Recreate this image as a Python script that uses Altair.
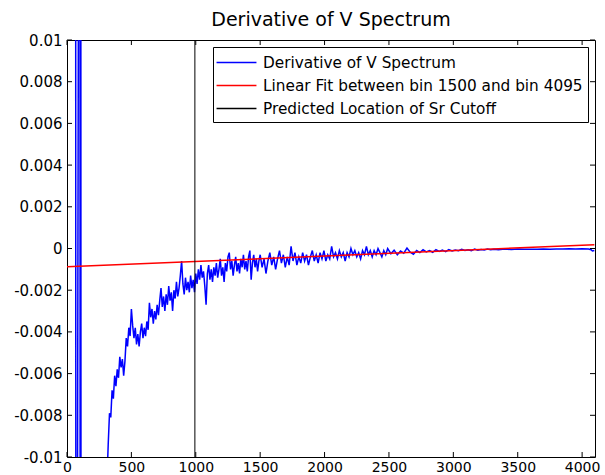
import altair as alt
import pandas as pd

# ---------------- data ----------------
series_names = ["Derivative of V Spectrum",
                "Linear Fit between bin 1500 and bin 4095",
                "Predicted Location of Sr Cutoff"]
series_colors = ["#0000ff", "#ff0000", "#000000"]

# off-scale spikes at the start of the spectrum
spike_bins = [0, 66, 70, 100, 103, 106, 110, 300]
spike_vals = [0.05, 0.05, -0.05, 0.05, -0.05, 0.05, -0.05, -0.05]

bins_a = [310, 320, 330, 340, 350, 360, 370, 380, 390, 400,
          410, 420, 430, 440, 450, 460, 470, 480, 490, 500,
          510, 520, 530, 540, 550, 560, 570, 580, 590, 600,
          610, 620, 630, 640, 650, 660, 670, 680, 690, 700,
          710, 720, 730, 740, 750, 760, 770, 780, 790, 800,
          810, 820, 830, 840, 850, 860, 870, 880, 890, 900,
          910, 920, 930, 940, 950, 960, 970, 980, 990, 1000,
          1010, 1020, 1030, 1040, 1050, 1060, 1070, 1080, 1090, 1100,
          1110, 1120, 1130, 1140, 1150, 1160, 1170, 1180, 1190, 1200,
          1210, 1220, 1230, 1240, 1250, 1260, 1270, 1280, 1290, 1300,
          1310, 1320, 1330, 1340, 1350, 1360, 1370, 1380, 1390, 1400,
          1410, 1420, 1430, 1440, 1450, 1460, 1470, 1480, 1490, 1500]
vals_a = [-0.0112, -0.0094, -0.0079, -0.0081, -0.0068, -0.0072, -0.0061, -0.0066, -0.0058, -0.0062,
          -0.0052, -0.0057, -0.0053, -0.0061, -0.0054, -0.0043, -0.0047, -0.0038, -0.0042, -0.0029,
          -0.0037, -0.0043, -0.0038, -0.0046, -0.0041, -0.0047, -0.0040, -0.0036, -0.0043, -0.0038,
          -0.0042, -0.0035, -0.0039, -0.0026, -0.0033, -0.0029, -0.0036, -0.0030, -0.0034, -0.0027,
          -0.0032, -0.0025, -0.0019, -0.0028, -0.0023, -0.0030, -0.0022, -0.0027, -0.0018, -0.0025,
          -0.0021, -0.0030, -0.0020, -0.0024, -0.0016, -0.0023, -0.0019, -0.0013, -0.0006, -0.0017,
          -0.0022, -0.0014, -0.0020, -0.0016, -0.0021, -0.0013, -0.0019, -0.0015, -0.0021, -0.0012,
          -0.0017, -0.0010, -0.0015, -0.0008, -0.0014, -0.0011, -0.0018, -0.0027, -0.0012, -0.0008,
          -0.0015, -0.0010, -0.0016, -0.0009, -0.0013, -0.0007, -0.0014, -0.0010, -0.0005, -0.0013,
          -0.0009, -0.0016, -0.0007, -0.0011, -0.0004, -0.0002, -0.0010, -0.0006, -0.0013, -0.0008,
          -0.0004, -0.0011, -0.0007, -0.0012, -0.0005, -0.0009, -0.0003, -0.0010, -0.0006, -0.0011,
          -0.0004, -0.0001, -0.0015, -0.0007, -0.0003, -0.0009, -0.0005, -0.0011, -0.0006, -0.0003]

bins_b = [1515, 1530, 1545, 1560, 1575, 1590, 1605, 1620, 1635, 1650, 1665,
          1680, 1695, 1710, 1725, 1740, 1755, 1770, 1785, 1800, 1815, 1830,
          1845, 1860, 1875, 1890, 1905, 1920, 1935, 1950, 1965, 1980, 1995,
          2010, 2025, 2040, 2055, 2070, 2085, 2100, 2115, 2130, 2145, 2160,
          2175, 2190, 2205, 2220, 2235, 2250, 2265, 2280, 2295, 2310, 2325,
          2340, 2355, 2370, 2385, 2400, 2415, 2430, 2445, 2460, 2475, 2490]
vals_b = [-0.0009, -0.0005, -0.0012, -0.0006, -0.0002, -0.0008, -0.0004, -0.0010, -0.0005, -0.0001, -0.0007,
          -0.0003, -0.0009, -0.0004, -0.0008, 0.0001, -0.0006, -0.0002, -0.0008, -0.0004, -0.0007, -0.0002,
          -0.0006, -0.0003, -0.0008, -0.0004, -0.0001, -0.0006, -0.0003, -0.0007, -0.0002, -0.0005, -0.0001,
          -0.0006, -0.0003, -0.0005, 0.0001, -0.0004, -0.0002, -0.0005, -0.0001, -0.0004, -0.0002, -0.0006,
          -0.0002, -0.0004, 0.0000, -0.0003, -0.0001, -0.0004, -0.0002, -0.0005, -0.0001, -0.0003, 0.0001,
          -0.0003, -0.0001, -0.0004, -0.0001, -0.0003, 0.0000, -0.0002, -0.0004, -0.0001, -0.0003, 0.0000]

bins_c = [2515, 2540, 2565, 2590, 2615, 2640, 2665, 2690, 2715, 2740, 2765,
          2790, 2815, 2840, 2865, 2890, 2915, 2940, 2965, 2990, 3015, 3040,
          3065, 3090, 3115, 3140, 3165, 3190, 3215, 3240, 3265, 3290, 3315]
vals_c = [-0.00025, -0.00008, -0.00030, -0.00012, -0.00022, 0.00002, -0.00018, -0.00028, -0.00010, -0.00020, -0.00006,
          -0.00016, -0.00010, -0.00018, -0.00006, -0.00014, -0.00008, -0.00015, -0.00005, -0.00012, -0.00007, -0.00011,
          -0.00004, -0.00009, -0.00006, -0.00010, -0.00003, -0.00008, -0.00005, -0.00007, -0.00002, -0.00006, -0.00004]

bins_d = [3350, 3400, 3450, 3500, 3550, 3600, 3650, 3700, 3750, 3800,
          3850, 3900, 3950, 4000, 4050, 4070, 4080, 4095]
vals_d = [-0.00006, -0.00003, -0.00005, -0.00002, -0.00004, -0.00003, -0.00003, -0.00002, -0.00003, -0.00002,
          -0.00002, -0.00001, -0.00002, -0.00001, -0.00002, -0.00006, -0.00012, -0.00010]

fit_bins = [0, 4095]
fit_vals = [-0.00088, 0.000185]

cutoff_bins = [993]

x_tick_values = [0, 500, 1000, 1500, 2000, 2500, 3000, 3500, 4000]
y_tick_values = [-0.01, -0.008, -0.006, -0.004, -0.002, 0, 0.002, 0.004, 0.006, 0.008, 0.01]

# ---------------- tables ----------------
blue_x = spike_bins + bins_a + bins_b + bins_c + bins_d
blue_y = spike_vals + vals_a + vals_b + vals_c + vals_d
df_blue = pd.DataFrame({"x": blue_x, "y": blue_y, "series": series_names[0]})
df_fit = pd.DataFrame({"x": fit_bins, "y": fit_vals, "series": series_names[1]})
df_cut = pd.DataFrame({"x": cutoff_bins, "series": series_names[2]})
df_xt = pd.DataFrame({"x": x_tick_values})
df_yt = pd.DataFrame({"y": y_tick_values})

# ---------------- chart ----------------
W, H = 528, 417
FONT = "DejaVu Sans"
xs = alt.Scale(domain=[0, 4100], nice=False, zero=False)
ys = alt.Scale(domain=[-0.01, 0.01], nice=False, zero=False)

legend = alt.Legend(
    title=None, orient="none", legendX=146, legendY=7, direction="vertical",
    symbolType="M-2.1,0H2.1", symbolSize=361, symbolStrokeWidth=1.5,
    symbolOffset=8, labelOffset=16,
    labelFont=FONT, labelFontSize=15.3, labelColor="black", labelLimit=400,
    padding=5, rowPadding=4, fillColor="white", strokeColor="black",
)
color = alt.Color("series:N", scale=alt.Scale(domain=series_names, range=series_colors),
                  sort=series_names, legend=legend)

x_axis = alt.Axis(values=x_tick_values, format="d", title=None, ticks=False, domain=False,
                  grid=False, labelFont=FONT, labelFontSize=14, labelColor="black",
                  labelPadding=3, labelFlush=False)
y_axis = alt.Axis(values=y_tick_values,
                  labelExpr="replace(format(datum.value, '~r'), '\u2212', '-')",
                  title=None, ticks=False, domain=False, grid=False,
                  labelFont=FONT, labelFontSize=15, labelColor="black", labelPadding=5)

X = alt.X("x:Q", scale=xs, axis=x_axis)
Y = alt.Y("y:Q", scale=ys, axis=y_axis)

blue = alt.Chart(df_blue).mark_line(clip=True, strokeWidth=1.5).encode(x=X, y=Y, color=color)
fit = alt.Chart(df_fit).mark_line(clip=True, strokeWidth=1.5).encode(x=X, y=Y, color=color)
cut = alt.Chart(df_cut).mark_rule(clip=True, strokeWidth=1).encode(x=X, color=color)

tick_bottom = alt.Chart(df_xt).mark_rule(color="black", strokeWidth=1).encode(
    x=X, y=alt.value(H), y2=alt.value(H - 5))
tick_top = alt.Chart(df_xt).mark_rule(color="black", strokeWidth=1).encode(
    x=X, y=alt.value(0), y2=alt.value(5))
tick_left = alt.Chart(df_yt).mark_rule(color="black", strokeWidth=1).encode(
    y=Y, x=alt.value(0), x2=alt.value(5))
tick_right = alt.Chart(df_yt).mark_rule(color="black", strokeWidth=1).encode(
    y=Y, x=alt.value(W), x2=alt.value(W - 5))

chart = alt.layer(blue, fit, cut, tick_bottom, tick_top, tick_left, tick_right).properties(
    width=W, height=H,
    padding={"left": 67, "top": 40, "right": 10, "bottom": 18},
    autosize=alt.AutoSizeParams(type="none"),
    background="white",
    title=alt.TitleParams("Derivative of V Spectrum", font=FONT, fontSize=19,
                          fontWeight="normal", color="black", anchor="middle",
                          frame="group", offset=0, dy=12, baseline="alphabetic"),
).configure_view(stroke="black", strokeWidth=1)

chart.save("out.html", embed_options={"renderer": "svg", "actions": False})
